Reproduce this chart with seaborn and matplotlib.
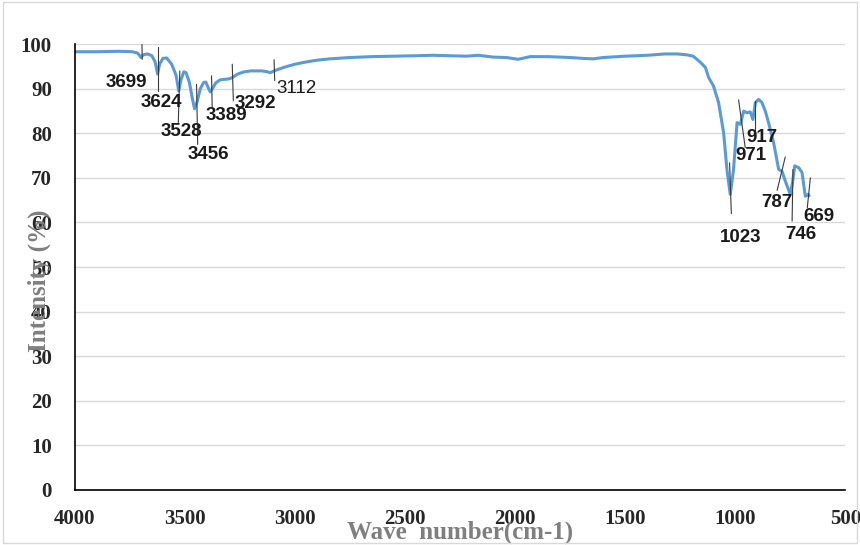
import numpy as np
import pandas as pd
import matplotlib
matplotlib.use("Agg")
import matplotlib.pyplot as plt
import seaborn as sns

# FTIR spectrum
wavenumber = [4000, 3900, 3800, 3740, 3715, 3699, 3690, 3670, 3650, 3635,
              3624, 3615, 3600, 3583, 3560, 3540, 3528, 3518, 3505, 3495,
              3480, 3465, 3456, 3445, 3430, 3415, 3405, 3395, 3385, 3375,
              3360, 3340, 3320, 3300, 3285, 3260, 3230, 3200, 3150, 3125,
              3112, 3095, 3050, 3000, 2950, 2900, 2841, 2750, 2650, 2550,
              2450, 2373, 2300, 2220, 2168, 2100, 2040, 1986, 1932, 1850,
              1750, 1690, 1645, 1600, 1500, 1400, 1320, 1264, 1220, 1191,
              1160, 1136, 1121, 1099, 1076, 1053, 1038, 1023, 1008, 992,
              977, 962, 947, 932, 920, 909, 894, 879, 864, 849,
              826, 803, 788, 773, 750, 740, 730, 712, 697, 682,
              668, 665]
intensity = [98.3, 98.3, 98.4, 98.3, 98.0, 97.0, 97.6, 97.8, 97.4, 96.0,
             93.3, 95.5, 96.8, 96.9, 95.5, 93.0, 89.5, 92.0, 93.8, 93.6,
             91.5, 87.5, 85.5, 87.0, 90.0, 91.4, 91.5, 90.3, 89.3, 90.0,
             91.3, 92.0, 92.1, 92.2, 92.5, 93.3, 93.8, 94.0, 94.0, 93.8,
             93.6, 94.0, 94.8, 95.5, 96.0, 96.4, 96.7, 97.0, 97.2, 97.3,
             97.4, 97.5, 97.4, 97.3, 97.5, 97.1, 97.0, 96.6, 97.2, 97.2,
             97.0, 96.8, 96.7, 97.0, 97.3, 97.5, 97.8, 97.8, 97.6, 97.3,
             96.0, 94.8, 92.5, 90.6, 86.9, 80.1, 71.9, 66.3, 71.9, 82.4,
             82.0, 85.0, 84.6, 84.8, 83.1, 86.9, 87.6, 86.9, 85.0, 82.4,
             77.9, 71.9, 71.5, 69.3, 66.3, 69.0, 72.7, 72.3, 71.2, 65.9,
             66.3, 66.0]

# peak labels, leader lines (x0, y0, x1, y1) and label anchors
peak_labels = ["3699", "3624", "3528", "3456", "3389", "3292", "3112",
               "1023", "971", "917", "787", "746", "669"]
leader_lines = [(3695, 100.0, 3694, 96.6), (3621, 99.3, 3621, 89.5),
                (3523, 94.0, 3530, 82.4), (3447, 91.0, 3442, 77.5),
                (3379, 92.9, 3376, 85.8), (3285, 95.5, 3280, 87.3),
                (3095, 96.5, 3092, 91.8), (1026, 73.4, 1018, 62.0),
                (985, 87.5, 955, 76.8), (909, 87.3, 909, 80.5),
                (773, 74.7, 810, 67.2), (738, 71.9, 742, 60.3),
                (659, 70.0, 673, 63.3)]
label_pos = [(3765, 91.5), (3606, 86.9), (3515, 80.5), (3394, 75.3),
             (3310, 83.9), (3179, 86.7), (2992, 90.0), (977, 56.6),
             (929, 75.1), (879, 79.0), (810, 64.4), (701, 57.3),
             (621, 61.4)]
label_bold = [True] * 6 + [False] + [True] * 6

df = pd.DataFrame({"wavenumber": wavenumber, "intensity": intensity})

sns.set_style("white")
fig = plt.figure(figsize=(8.6, 5.45), dpi=100)
ax = fig.add_axes([0.087, 0.101, 0.896, 0.818])

sns.lineplot(data=df, x="wavenumber", y="intensity", ax=ax,
             color="#5B9BD5", linewidth=2.2, sort=False)

for (x0, y0, x1, y1) in leader_lines:
    ax.plot([x0, x1], [y0, y1], color="#3a3a3a", linewidth=0.8)
for lab, (lx, ly), b in zip(peak_labels, label_pos, label_bold):
    ax.text(lx, ly, lab, ha="center", va="center", fontsize=13.5,
            family="Liberation Sans", fontweight="bold" if b else "normal",
            color="#1a1a1a")

ax.set_xlim(4000, 500)
ax.set_ylim(0, 100)
ax.set_xticks(range(4000, 499, -500))
ax.set_yticks(range(0, 101, 10))
ax.yaxis.grid(True, color="#d9d9d9", linewidth=1)
ax.set_axisbelow(True)
for s in ["top", "right"]:
    ax.spines[s].set_visible(False)
for s in ["left", "bottom"]:
    ax.spines[s].set_color("black")
    ax.spines[s].set_linewidth(1.2)
ax.tick_params(direction="inout", length=9, width=1.2, color="black",
               labelsize=15)
ax.tick_params(axis="x", pad=9)
ax.tick_params(axis="y", pad=12)
for t in ax.get_xticklabels() + ax.get_yticklabels():
    t.set_family("Liberation Serif")
    t.set_fontweight("bold")

ax.set_xlabel("Wave  number(cm-1)", family="Liberation Serif",
              fontweight="bold", fontsize=18, color="#7f7f7f")
ax.xaxis.set_label_coords(0.5, -0.068)
ax.set_ylabel("Intensity (%)", family="Liberation Serif",
              fontweight="bold", fontsize=18, color="#7f7f7f")
ax.yaxis.set_label_coords(-0.031, 0.47)

fig.patches.append(plt.Rectangle((0.004, 0.004), 0.992, 0.992,
                                 transform=fig.transFigure, fill=False,
                                 edgecolor="#d9d9d9", linewidth=1))

fig.savefig("out.png", dpi=100)
